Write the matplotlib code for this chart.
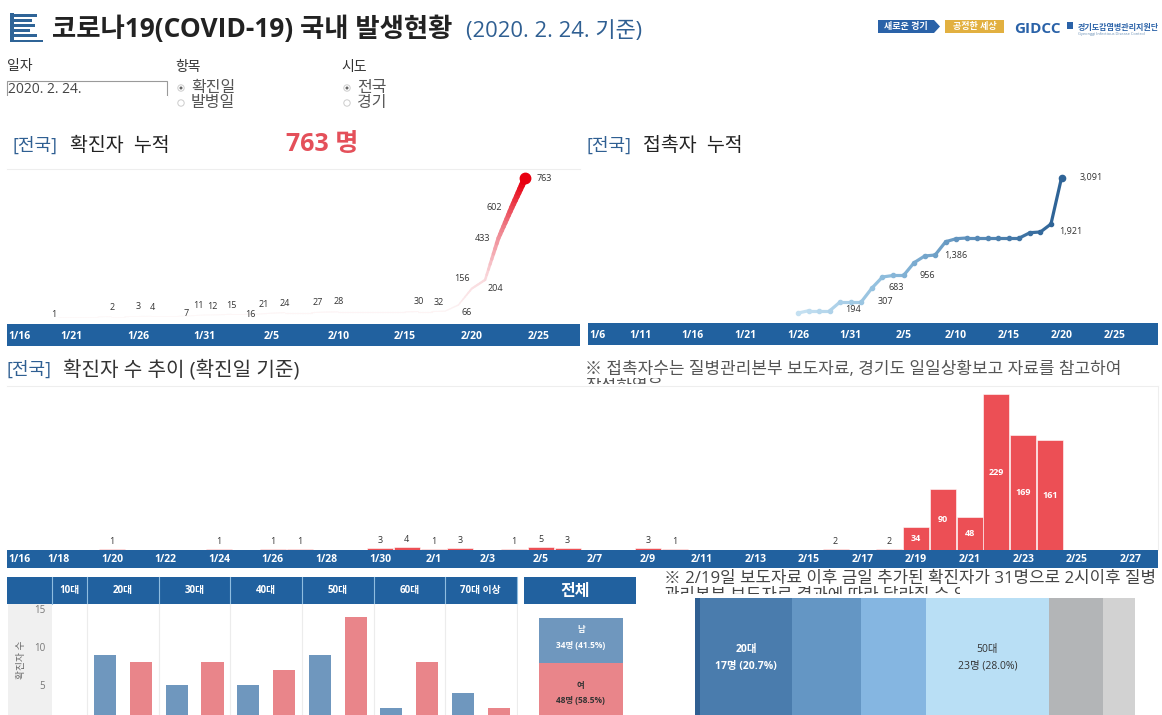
import numpy as np
import pandas as pd
import matplotlib
matplotlib.use('Agg')
import matplotlib.pyplot as plt
import matplotlib.dates as mdates
from matplotlib.colors import LinearSegmentedColormap
from matplotlib.patches import Rectangle, Circle, Polygon

plt.rcParams['font.family'] = ['Open Sans', 'Noto Sans CJK KR', 'DejaVu Sans']

# cumulative confirmed, 1/20 - 2/24
confirmed_days = pd.date_range('2020-01-20', '2020-02-24')
confirmed_cum = [1, 1, 1, 1, 2, 2, 3, 4, 4, 4, 7, 11, 12, 15, 15, 16, 21, 24, 24, 24, 27, 28,
                 28, 28, 28, 28, 28, 30, 30, 32, 66, 156, 204, 433, 602, 763]
confirmed_labels = ['1', '2', '3', '4', '7', '11', '12', '15', '16', '21', '24', '27', '28',
                    '30', '32', '66', '156', '204', '433', '602', '763']
confirmed_label_days = ['01-20', '01-24', '01-26', '01-27', '01-30', '01-31', '02-01', '02-02',
                        '02-04', '02-05', '02-06', '02-09', '02-10', '02-16', '02-18', '02-19',
                        '02-20', '02-21', '02-22', '02-23', '02-24']
confirmed_label_dx = [-4, 1, 0, 1, -5, -6, -6, 0, -8, -8, 0, -7, 0, 0, -6, 8, -10, 10, -16, -18, 19]
confirmed_label_dy = [2, 9, 10, 9, 2, 9, 8, 9, 0, 9, 9, 10, 10, 10, 9, -8, 10, -9, 0, 0, 0]

# cumulative contacts, 1/26 - 2/20
contact_days = pd.date_range('2020-01-26', '2020-02-20')
contact_cum = [127, 178, 178, 178, 375, 375, 375, 675, 917, 950, 950, 1230, 1377, 1399, 1691, 1757,
               1772, 1772, 1772, 1772, 1772, 1772, 1888, 1904, 2079, 3091]
contact_labels = [194, 307, 683, 956, 1386, 1921, 3091]
contact_label_days = ['01-31', '02-03', '02-04', '02-07', '02-10', '02-19', '02-20']
contact_label_dx = [2, 3, 3, 3, 0, 20, 30]
contact_label_dy = [0, 3, 0, 0, 0, 0, 0]

# daily new confirmed
daily_days = ['01-20', '01-24', '01-26', '01-27', '01-30', '01-31', '02-01', '02-02', '02-04', '02-05',
              '02-06', '02-09', '02-10', '02-16', '02-18', '02-19', '02-20', '02-21', '02-22',
              '02-23', '02-24']
daily_new = [1, 1, 1, 1, 3, 4, 1, 3, 1, 5, 3, 3, 1, 2, 2, 34, 90, 48, 229, 169, 161]

# age / sex
age_groups = ['10대', '20대', '30대', '40대', '50대', '60대', '70대 이상']
age_slots = [1, 2, 2, 2, 2, 2, 2]
sex_counts = [1, 9, 8, 5, 8, 5, 7, 9, 14, 2, 8, 4, 2]
sex_of_bar = ['F', 'M', 'F', 'M', 'F', 'M', 'F', 'M', 'F', 'M', 'F', 'M', 'F']
sex_total = [34, 48]
age_total = [1, 17, 13, 12, 23, 10, 6]
age_total_colors = ['#2f5f92', '#4a7cad', '#6496c4', '#85b6e1', '#b9dff5', '#b3b5b7', '#d2d2d2']

W, H = 1162, 715
BLUE = '#21619f'
fig = plt.figure(figsize=(W / 100, H / 100), dpi=100, facecolor='white')


def axes_px(x0, y0, x1, y1):
    ax = fig.add_axes([x0 / W, 1 - y1 / H, (x1 - x0) / W, (y1 - y0) / H], facecolor='none', zorder=2)
    return ax


def num(md):
    return mdates.date2num(pd.Timestamp('2020-' + md))


def date_axis(ax, x0, x1, ref_px, ref_day, px_per_day, ticks, pad, borders):
    left = num(ref_day) - (ref_px - x0) / px_per_day
    right = num(ref_day) + (x1 - ref_px) / px_per_day
    ax.set_xlim(left, right)
    pos = [num(t) for t in ticks]
    labs = [f"{int(t[:2])}/{int(t[3:])}" for t in ticks]
    pos[0] = left + 1.5 / px_per_day
    ax.set_xticks(pos)
    ax.set_xticklabels(labs, color='white', fontsize=7.5, fontweight='bold')
    ax.get_xticklabels()[0].set_ha('left')
    ax.tick_params(axis='x', length=0, pad=pad)
    ax.set_yticks([])
    for name, s in ax.spines.items():
        s.set_color('#eeeeee')
        s.set_visible(name in borders)


# overlay for page furniture, in pixel coordinates
ov = fig.add_axes([0, 0, 1, 1], zorder=1)
ov.set_xlim(0, W)
ov.set_ylim(H, 0)
ov.axis('off')


def txt(x, y, s, size=10, color='#333333', weight='normal', ha='left', clip=None):
    t = ov.text(x, y + 0.14 * size, s, fontsize=size, color=color, fontweight=weight, ha=ha, va='center')
    if clip is not None:
        t.set_clip_on(True)
        t.set_clip_path(Rectangle((clip[0], clip[1]), clip[2], clip[3], transform=ov.transData))
    return t


def box(x0, y0, x1, y1, color, **kw):
    ov.add_patch(Rectangle((x0, y0), x1 - x0, y1 - y0, facecolor=color, edgecolor='none', **kw))


# title icon
for i, w in enumerate([24, 19, 22, 17, 24]):
    box(13, 14 + i * 5, 13 + w, 17 + i * 5, '#2f6497')
box(10, 13, 14, 42, '#2f6497')
box(10, 40, 43, 42, '#2f6497')

txt(52, 27, '코로나19(COVID-19) 국내 발생현황', 19, '#222222', 'bold')
txt(466, 29, '(2020. 2. 24. 기준)', 15.8, '#2f5f92')

# logos
box(878, 20, 934, 33, '#2a62a8')
ov.add_patch(Polygon([(934, 20), (940, 26.5), (934, 33)], facecolor='#2a62a8', edgecolor='none'))
box(945, 20, 1004, 33, '#e2b040')
txt(906, 26, '새로운 경기', 6.5, 'white', 'bold', ha='center')
txt(975, 26, '공정한 세상', 6.5, 'white', 'bold', ha='center')
txt(1014, 27, 'GIDCC', 11, '#2a62a8', 'bold')
box(1067, 22, 1073, 29, '#2a62a8')
txt(1078, 27, '경기도감염병관리지원단', 5.8, '#2a62a8', 'bold')
txt(1078, 34, 'Gyeonggi Infectious Disease Control', 2.9, '#6a8fb5')

# filters
txt(7, 65, '일자', 10, '#333333')
ov.add_patch(Rectangle((7, 81), 160, 16, facecolor='white', edgecolor='#9a9a9a', linewidth=0.8))
box(6, 96, 168, 99, 'white')
txt(8, 88, '2020. 2. 24.', 10, '#444444')
txt(175, 66, '항목', 10, '#333333')
txt(191, 86, '확진일', 11.5, '#555555')
txt(191, 101, '발병일', 11.5, '#555555')
txt(341, 66, '시도', 10, '#333333')
txt(357, 86, '전국', 11.5, '#555555')
txt(357, 101, '경기', 11.5, '#555555')
for x, on in [(181, True), (181, False), (347, True), (347, False)]:
    y = 88 if on else 103
    ov.add_patch(Circle((x, y), 3.2, facecolor='white', edgecolor='#cccccc', linewidth=0.7))
    if on:
        ov.add_patch(Circle((x, y), 1.5, facecolor='#666666', edgecolor='none'))

# section titles
txt(13, 144, '[전국]', 13, '#2f5f92')
txt(70, 144, '확진자  누적', 14, '#222222')
txt(286, 142, '763 명', 18, '#e4505a', 'bold')
txt(586, 144, '[전국]', 13, '#2f5f92')
txt(643, 144, '접촉자  누적', 14, '#222222')
txt(7, 368, '[전국]', 13, '#2f5f92')
txt(63, 368, '확진자 수 추이 (확진일 기준)', 14.5, '#333333')
txt(585, 368, '※ 접촉자수는 질병관리본부 보도자료, 경기도 일일상황보고 자료를 참고하여', 12.2, '#555555')
txt(585, 385, '작성하였음', 12.2, '#555555', clip=(580, 378, 300, 6))
txt(664, 577, '※ 2/19일 보도자료 이후 금일 추가된 확진자가 31명으로 2시이후 질병', 12.1, '#444444')
txt(664, 594, '관리본부 보도자료 결과에 따라 달라질 수 있음', 12.1, '#444444', clip=(660, 586, 300, 8))

# blue date bands
box(7, 324, 580, 346, BLUE)
box(588, 323, 1158, 345, BLUE)
box(7, 550, 1158, 568, BLUE)

# chart 1 - cumulative confirmed
ax1 = axes_px(7, 169, 580, 324)
k1 = 0.182
ax1.set_ylim(-7 / k1, 148 / k1)
ticks1 = ['01-16', '01-21', '01-26', '01-31', '02-05', '02-10', '02-15', '02-20', '02-25']
date_axis(ax1, 7, 580, 538.5, '02-25', 13.35, ticks1, 5, ['top'])
x1 = mdates.date2num(confirmed_days)
y1 = np.array(confirmed_cum, dtype=float)
reds = LinearSegmentedColormap.from_list('reds', ['#fdf8f8', '#f9d4d8', '#ee7f8a', '#e80010'])
for i in range(len(x1) - 1):
    # each stretch is split up only to fade colour and width along it
    tx = np.linspace(x1[i], x1[i + 1], 9)
    ty = np.linspace(y1[i], y1[i + 1], 9)
    for j in range(8):
        v = ty[j + 1] / y1.max()
        ax1.plot(tx[j:j + 2], ty[j:j + 2], color=reds(v), lw=0.6 + 4 * v, solid_capstyle='round')
ax1.plot(x1[-1], y1[-1], 'o', color='#e80010', ms=7.5)
value_of = dict(zip([d.strftime('%m-%d') for d in confirmed_days], confirmed_cum))
for d, s, dx, dy in zip(confirmed_label_days, confirmed_labels, confirmed_label_dx, confirmed_label_dy):
    ax1.annotate(s, (num(d), value_of[d]), xytext=(dx, dy), textcoords='offset pixels',
                 ha='center', va='center', fontsize=6.5, color='#333333')

# chart 2 - cumulative contacts
ax2 = axes_px(588, 169, 1158, 323)
k2 = 0.0456
ax2.set_ylim(-4.2 / k2, 149.8 / k2)
ticks2 = ['01-06', '01-11', '01-16', '01-21', '01-26', '01-31', '02-05', '02-10', '02-15', '02-20', '02-25']
date_axis(ax2, 588, 1158, 1061.5, '02-20', 10.53, ticks2, 5, [])
x2 = mdates.date2num(contact_days)
y2 = np.array(contact_cum, dtype=float)
blues = LinearSegmentedColormap.from_list('blues', ['#c4e0f1', '#8dbcdc', '#5c8fbb', '#2f6497'])
for i in range(len(x2) - 1):
    c = blues(i / (len(x2) - 2))
    ax2.plot(x2[i:i + 2], y2[i:i + 2], color=c, lw=2.3, solid_capstyle='round')
    ax2.plot(x2[i], y2[i], 'o', color=c, ms=3)
ax2.plot(x2[-1], y2[-1], 'o', color='#2f6497', ms=4.5)
for d, v, dx, dy in zip(contact_label_days, contact_labels, contact_label_dx, contact_label_dy):
    ax2.annotate(f'{v:,}', (num(d), v), xytext=(dx, dy), textcoords='offset pixels',
                 ha='center', va='center', fontsize=6.5, color='#333333')

# chart 3 - daily confirmed
ax3 = axes_px(7, 386, 1158, 550)
k3 = 0.681
ax3.set_ylim(0, 164 / k3)
ticks3 = [d.strftime('%m-%d') for d in pd.date_range('2020-01-16', '2020-02-27', freq='2D')]
date_axis(ax3, 7, 1158, 112, '01-20', 26.8, ticks3, 3, ['top', 'right'])
x3 = [num(d) for d in daily_days]
ax3.bar(x3, daily_new, width=0.97, color='#ec4f55', edgecolor='white', linewidth=0.4)
for x, v in zip(x3, daily_new):
    if v >= 30:
        ax3.text(x, v / 2, str(v), ha='center', va='center', fontsize=6.5, color='white', fontweight='bold')
    else:
        ax3.annotate(str(v), (x, v), xytext=(0, 3), textcoords='offset pixels',
                     ha='center', va='bottom', fontsize=6.5, color='#333333')

# bottom left - age and sex small multiples
box(7, 577, 518, 604, BLUE)
box(524, 577, 636, 604, BLUE)
box(8, 604, 52, 715, '#f0f0f0')
ax4 = axes_px(52, 604, 518, 715)
k4 = 7.6
ax4.set_xlim(-0.49, 12.54)
ax4.set_ylim(8 / k4, 119 / k4)
slots = np.arange(len(sex_counts))
ax4.bar(slots, sex_counts, width=0.62,
        color=['#6f97be' if s == 'M' else '#e9858a' for s in sex_of_bar])
ax4.set_xticks([])
ax4.set_yticks([5, 10, 15])
ax4.tick_params(axis='y', length=0, labelsize=7, labelcolor='#777777', pad=5)
for s in ax4.spines.values():
    s.set_visible(False)
ax4.set_ylabel('확진자 수', fontsize=7, color='#666666', labelpad=5)
edges = np.cumsum(age_slots)
start = 0
for g, n, e in zip(age_groups, age_slots, edges):
    mid = start + n / 2 - 0.5
    px = 52 + (mid + 0.49) * 466 / 13.03
    edge_px = 52 + (e - 0.5 + 0.49) * 466 / 13.03
    txt(px, 590, g, 7, 'white', 'bold', ha='center')
    ax4.axvline(e - 0.5, color='#ececec', lw=0.8)
    ov.plot([edge_px, edge_px], [577, 604], color='#8fbde0', lw=0.8)
    start = e
ov.plot([52, 52], [577, 604], color='#8fbde0', lw=0.8)
txt(575, 590, '전체', 11.5, 'white', 'bold', ha='center')

# bottom middle - sex total
ax5 = axes_px(539, 618, 622.5, 715)
ax5.set_xlim(0, 1)
ax5.bar(0.5, sex_total[0], width=1, bottom=0, color='#6f97be')
ax5.bar(0.5, sex_total[1], width=1, bottom=sex_total[0], color='#e9858a')
ax5.axis('off')
ax5.set_ylim(97 / 1.323, 0)
ax5.text(0.5, 9, '남', ha='center', va='center', fontsize=6, color='white', fontweight='bold')
ax5.text(0.5, 21, f'{sex_total[0]}명 ({sex_total[0] / sum(sex_total) * 100:.1f}%)', ha='center', va='center',
         fontsize=6, color='white', fontweight='bold')
ax5.text(0.5, 51, '여', ha='center', va='center', fontsize=6, color='#333333', fontweight='bold')
ax5.text(0.5, 62.5, f'{sex_total[1]}명 ({sex_total[1] / sum(sex_total) * 100:.1f}%)', ha='center', va='center',
         fontsize=6, color='#333333', fontweight='bold')

# bottom right - age total
ax6 = axes_px(695, 598, 1135, 715)
left = 0
for v, c in zip(age_total, age_total_colors):
    ax6.barh(0.5, v, height=1, left=left, color=c)
    left += v
ax6.set_xlim(0, sum(age_total))
ax6.set_ylim(0, 1)
ax6.axis('off')
tot = sum(age_total)
mid20 = age_total[0] + age_total[1] / 2
mid50 = sum(age_total[:4]) + age_total[4] / 2
ax6.text(mid20, 0.56, '20대', ha='center', va='center', fontsize=7.5, color='white', fontweight='bold')
ax6.text(mid20, 0.415, f'{age_total[1]}명 ({age_total[1] / tot * 100:.1f}%)', ha='center', va='center',
         fontsize=7.5, color='white', fontweight='bold')
ax6.text(mid50, 0.56, '50대', ha='center', va='center', fontsize=7.5, color='#333333')
ax6.text(mid50, 0.415, f'{age_total[4]}명 ({age_total[4] / tot * 100:.1f}%)', ha='center', va='center',
         fontsize=7.5, color='#333333')

fig.savefig('out.png', dpi=100)
